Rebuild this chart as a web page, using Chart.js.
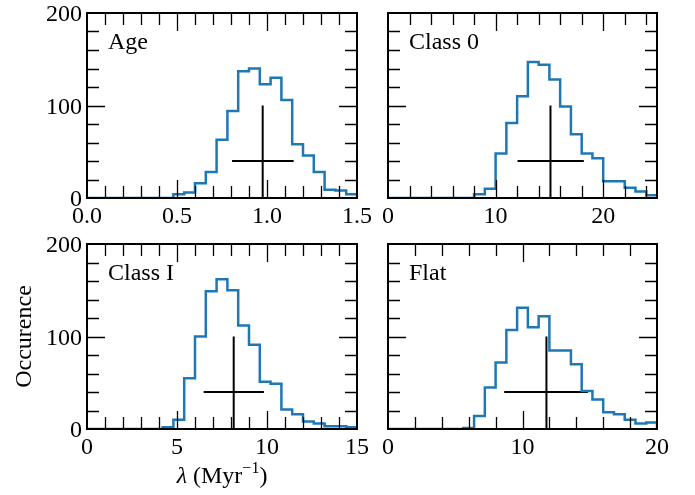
<!DOCTYPE html>
<html>
<head>
<meta charset="utf-8">
<script src="https://cdn.jsdelivr.net/npm/chart.js@4.4.1/dist/chart.umd.min.js"></script>
<style>
  body { margin: 0; background: #fff; }
  #wrap { position: relative; width: 695px; height: 495px; }
  #wrap canvas { position: absolute; left: 0; top: 0; }
</style>
</head>
<body>
<div id="wrap">
  <canvas id="cAge" width="695" height="495"></canvas>
  <canvas id="cClass0" width="695" height="495"></canvas>
  <canvas id="cClassI" width="695" height="495"></canvas>
  <canvas id="cFlat" width="695" height="495"></canvas>
</div>
<script>
// histogram counts, 25 bins per panel
var gAgeCounts    = [0,0,0,0,0,0,0,0,4,6,16,28,63,94,137,140,123,130,106,58,46,28,9,8,4];
var gClass0Counts = [0,0,0,0,0,0,0,0,4,10,48,81,110,147,144,128,99,69,48,43,18,18,11,7,3];
var gClassICounts = [0,0,0,0,0,0,0,2,10,55,100,149,162,150,112,91,51,49,21,16,8,6,3,3,2];
var gFlatCounts   = [0,0,0,0,0,0,0,1,14,45,72,107,131,110,122,85,85,70,41,32,18,16,10,6,7];

// bin widths and x ranges
var gBinWidths = [0.06, 1, 0.6, 0.8];
var gXMax = [1.5, 25, 15, 20];
var gXMajor = [0.5, 10, 5, 10];
var gXMinor = [0.1, 2, 1, 2];

// median (vertical line) and spread (horizontal line) of each panel
var gCrossX  = [0.976, 15.1, 8.15, 11.78];
var gCrossLo = [0.806, 12.04, 6.48, 8.64];
var gCrossHi = [1.148, 18.2, 9.83, 14.86];
var gCrossLevel = 40;
var gCrossTop = 100;

var gPanelNames = ["Age", "Class 0", "Class I", "Flat"];
var gCanvasIds = ["cAge", "cClass0", "cClassI", "cFlat"];
var gCountLists = [gAgeCounts, gClass0Counts, gClassICounts, gFlatCounts];

// plot area of each panel in the page
var gAreas = [
    { left: 87, top: 13, right: 357, bottom: 198 },
    { left: 388, top: 13, right: 657, bottom: 198 },
    { left: 87, top: 244, right: 357, bottom: 429 },
    { left: 388, top: 244, right: 657, bottom: 429 }
];

var W = 695, H = 495;
var SERIF = "'Liberation Serif', 'DejaVu Serif', serif";
Chart.defaults.font.family = SERIF;
Chart.defaults.font.size = 24;
Chart.defaults.color = "#000";

function stepPoints(pCounts, pWidth) {
    var vPts = [{ x: 0, y: 0 }];
    for (var i = 0; i < pCounts.length; i++) {
        vPts.push({ x: i * pWidth, y: pCounts[i] });
    }
    vPts.push({ x: pCounts.length * pWidth, y: 0 });
    return vPts;
}

// frame, inward ticks on all four sides, panel label
var framePlugin = {
    id: "frame",
    afterDraw: function (chart, args, opts) {
        var ctx = chart.ctx;
        var a = chart.chartArea;
        var xs = chart.scales.x, ys = chart.scales.y;
        ctx.save();
        ctx.strokeStyle = "#000";
        ctx.lineWidth = 1.3;
        ctx.beginPath();
        var n = Math.round(xs.max / opts.xMinor);
        for (var i = 1; i < n; i++) {
            var v = i * opts.xMinor;
            var px = Math.round(xs.getPixelForValue(v)) + 0.5;
            var isMajor = Math.abs(v / opts.xMajor - Math.round(v / opts.xMajor)) < 1e-6;
            var len = isMajor ? 18 : 12;
            ctx.moveTo(px, a.bottom); ctx.lineTo(px, a.bottom - len);
            ctx.moveTo(px, a.top); ctx.lineTo(px, a.top + len);
        }
        for (var j = 1; j < 10; j++) {
            var yv = j * 20;
            var py = Math.round(ys.getPixelForValue(yv)) + 0.5;
            var ylen = (yv % 100 === 0) ? 18 : 12;
            ctx.moveTo(a.left, py); ctx.lineTo(a.left + ylen, py);
            ctx.moveTo(a.right, py); ctx.lineTo(a.right - ylen, py);
        }
        ctx.stroke();
        ctx.lineWidth = 2;
        ctx.strokeRect(a.left, a.top, a.right - a.left, a.bottom - a.top);

        ctx.fillStyle = "#000";
        ctx.font = "24px " + SERIF;
        ctx.textAlign = "left";
        ctx.textBaseline = "alphabetic";
        ctx.fillText(opts.name, a.left + 21, a.top + 36);

        if (opts.titles) {
            // x title: λ (Myr^-1)
            var vParts = [
                { t: "λ", f: "italic 24px " + SERIF, dy: 0 },
                { t: " (Myr", f: "24px " + SERIF, dy: 0 },
                { t: "−1", f: "16px " + SERIF, dy: -10 },
                { t: ")", f: "24px " + SERIF, dy: 0 }
            ];
            var vTotal = 0;
            vParts.forEach(function (p) { ctx.font = p.f; p.w = ctx.measureText(p.t).width; vTotal += p.w; });
            var vX = (a.left + a.right) / 2 - vTotal / 2;
            vParts.forEach(function (p) {
                ctx.font = p.f;
                ctx.fillText(p.t, vX, 483 + p.dy);
                vX += p.w;
            });
            // y title
            ctx.save();
            ctx.translate(31, (a.top + a.bottom) / 2);
            ctx.rotate(-Math.PI / 2);
            ctx.font = "24px " + SERIF;
            ctx.textAlign = "center";
            ctx.fillText("Occurence", 0, 0);
            ctx.restore();
        }
        ctx.restore();
    }
};

function drawPanel(k) {
    var vArea = gAreas[k];
    var vLeftCol = (k % 2 === 0);
    var vDigits = (k === 0) ? 1 : 0;
    new Chart(document.getElementById(gCanvasIds[k]), {
        type: "line",
        data: {
            datasets: [
                {
                    data: stepPoints(gCountLists[k], gBinWidths[k]),
                    stepped: true,
                    borderColor: "#1f77b4",
                    borderWidth: 2.5,
                    pointRadius: 0,
                    fill: false
                },
                {
                    data: [{ x: gCrossX[k], y: 0 }, { x: gCrossX[k], y: gCrossTop }],
                    borderColor: "#000",
                    borderWidth: 2,
                    pointRadius: 0
                },
                {
                    data: [{ x: gCrossLo[k], y: gCrossLevel }, { x: gCrossHi[k], y: gCrossLevel }],
                    borderColor: "#000",
                    borderWidth: 2,
                    pointRadius: 0
                }
            ]
        },
        options: {
            responsive: false,
            animation: false,
            events: [],
            layout: { padding: { left: 0, top: vArea.top, right: W - vArea.right, bottom: 0 } },
            plugins: {
                legend: { display: false },
                tooltip: { enabled: false },
                frame: {
                    name: gPanelNames[k],
                    xMinor: gXMinor[k],
                    xMajor: gXMajor[k],
                    titles: (k === 2)
                }
            },
            scales: {
                x: {
                    type: "linear",
                    min: 0,
                    max: gXMax[k],
                    grid: { display: false, drawTicks: false },
                    border: { display: false },
                    ticks: {
                        stepSize: gXMajor[k],
                        includeBounds: false,
                        autoSkip: false,
                        maxRotation: 0,
                        padding: 4,
                        callback: function (v) { return Number(v).toFixed(vDigits); }
                    },
                    afterFit: function (s) {
                        s.height = H - vArea.bottom;
                        s.paddingLeft = 0; s.paddingRight = 0;
                    }
                },
                y: {
                    min: 0,
                    max: 200,
                    grid: { display: false, drawTicks: false },
                    border: { display: false },
                    ticks: {
                        display: vLeftCol,
                        stepSize: 100,
                        padding: 5,
                        labelOffset: 2
                    },
                    afterFit: function (s) {
                        s.width = vArea.left;
                        s.paddingTop = 0; s.paddingBottom = 0;
                    }
                }
            }
        },
        plugins: [framePlugin]
    });
}

for (var k = 0; k < 4; k++) {
    drawPanel(k);
}
</script>
</body>
</html>
